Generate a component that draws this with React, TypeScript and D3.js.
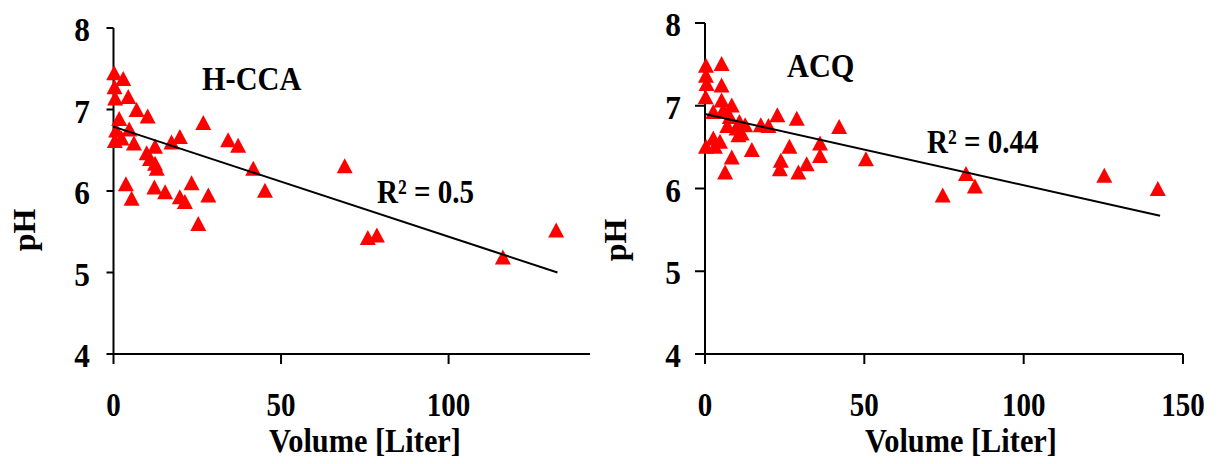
import React from "react";
import * as d3 from "d3";

// ---------- data ----------
const hccaVolume = [0.2, 2.9, 0.3, 0.5, 4.4, 6.9, 10.2, 1.7, 0.8, 26.8, 4.7, 0.4, 2.4, 6.1, 19.8, 17.3, 34.2, 37.2, 12.4, 9.9, 10.9, 12.4, 12.9, 41.7, 69, 3.7, 23.3, 12.2, 15.4, 5.4, 19.8, 21.3, 28.3, 45.2, 25.3, 75.9, 78.6, 116.2, 132.1];
const hccaPH = [7.45, 7.38, 7.28, 7.14, 7.16, 7.0, 6.92, 6.89, 6.75, 6.84, 6.76, 6.62, 6.65, 6.59, 6.67, 6.6, 6.63, 6.56, 6.55, 6.47, 6.4, 6.34, 6.28, 6.28, 6.31, 6.09, 6.1, 6.05, 5.99, 5.91, 5.93, 5.87, 5.95, 6.01, 5.6, 5.43, 5.46, 5.19, 5.52];

const acqVolume = [0.3, 5.2, 0.3, 0.5, 5.2, 0.2, 5.2, 8.4, 2.6, 5.7, 7.8, 22.7, 28.8, 10.8, 12.6, 7.0, 17.5, 19.9, 9.9, 42.1, 11.5, 10.5, 0.3, 2.6, 4.7, 3.1, 14.7, 26.5, 36.1, 36.1, 8.4, 50.5, 23.8, 31.9, 23.5, 6.3, 29.3, 81.9, 84.7, 74.6, 125.3, 142.1];
const acqPH = [7.49, 7.51, 7.37, 7.27, 7.25, 7.11, 7.07, 7.01, 6.93, 6.95, 6.87, 6.89, 6.85, 6.81, 6.77, 6.76, 6.77, 6.76, 6.73, 6.75, 6.67, 6.65, 6.51, 6.61, 6.57, 6.51, 6.47, 6.51, 6.55, 6.4, 6.38, 6.36, 6.34, 6.3, 6.24, 6.2, 6.2, 6.18, 6.03, 5.92, 6.16, 6.0];

const hccaTrendX = [0, 132.5];
const hccaTrendY = [6.79, 5.0];
const acqTrendX = [0, 142.8];
const acqTrendY = [6.9, 5.67];

const yTicks = [4, 5, 6, 7, 8];
const hccaXTicks = [0, 50, 100];
const acqXTicks = [0, 50, 100, 150];

const hccaTitle = "H-CCA";
const acqTitle = "ACQ";
const hccaR2 = "R² = 0.5";
const acqR2 = "R² = 0.44";
const xLabel = "Volume [Liter]";
const yLabel = "pH";

const FONT = "Liberation Serif, Times New Roman, serif";

function Txt(props: { x: number; y: number; size: number; sx?: number; rotate?: number; anchor?: string; children: React.ReactNode }) {
  const { x, y, size, sx = 1, rotate = 0, anchor = "start" } = props;
  return (
    <text
      transform={`translate(${x},${y})${rotate ? ` rotate(${rotate})` : ""} scale(${sx},1)`}
      textAnchor={anchor}
      style={{ fontFamily: FONT, fontWeight: 700, fontSize: size }}
      fill="#000"
    >
      {props.children}
    </text>
  );
}

function tri(cx: number, cy: number) {
  const w = 16, h = 15;
  return `M${cx},${cy - h / 2}L${cx + w / 2},${cy + h / 2}L${cx - w / 2},${cy + h / 2}Z`;
}

type PanelProps = {
  xs: number[]; ys: number[]; tx: number[]; ty: number[];
  xDomainMax: number; xRange: [number, number]; yRange: [number, number];
  xTicks: number[]; tickLen: number; title: string; titleX: number; titleY: number;
  r2: string; r2X: number; r2Y: number; yLabelX: number; yLabelY: number; xLabelX: number;
  yTickLabelX: number;
};

function Panel(p: PanelProps) {
  const x = d3.scaleLinear().domain([0, p.xDomainMax]).range(p.xRange);
  const y = d3.scaleLinear().domain([4, 8]).range(p.yRange);
  const line = d3.line<number>().x((d) => x(p.tx[d])).y((d) => y(p.ty[d]));
  const x0 = x(0);
  const y0 = y(4);
  return (
    <g>
      {/* y axis */}
      <line x1={x0} x2={x0} y1={y(8)} y2={y0} stroke="#000" strokeWidth={2} />
      {yTicks.map((t) => (
        <g key={"y" + t}>
          <line x1={x0 - p.tickLen} x2={x0} y1={y(t)} y2={y(t)} stroke="#000" strokeWidth={2} />
          <Txt x={p.yTickLabelX} y={y(t) + 13} size={33} sx={0.95} anchor="end">{t}</Txt>
        </g>
      ))}
      {/* x axis */}
      <line x1={x0} x2={p.xRange[1]} y1={y0} y2={y0} stroke="#000" strokeWidth={2} />
      {p.xTicks.map((t) => (
        <g key={"x" + t}>
          <line x1={x(t)} x2={x(t)} y1={y0} y2={y0 + 10} stroke="#000" strokeWidth={2} />
          <Txt x={x(t)} y={416} size={33} sx={0.88} anchor="middle">{t}</Txt>
        </g>
      ))}
      <Txt x={p.xLabelX} y={452} size={33} sx={0.92} anchor="middle">{xLabel}</Txt>
      <Txt x={p.yLabelX} y={p.yLabelY} size={32} rotate={-90} anchor="middle">{yLabel}</Txt>
      {/* points */}
      {p.xs.map((v, i) => (
        <path key={"p" + i} d={tri(x(v), y(p.ys[i]))} fill="#FF0000" />
      ))}
      {/* trend */}
      <path d={line(p.tx.map((_, i) => i)) || ""} fill="none" stroke="#000" strokeWidth={2} />
      <Txt x={p.titleX} y={p.titleY} size={33} sx={0.92}>{p.title}</Txt>
      <Txt x={p.r2X} y={p.r2Y} size={33} sx={0.88}>{p.r2}</Txt>
    </g>
  );
}

export default function App() {
  return (
    <svg width={1225} height={464} style={{ position: "absolute", left: 0, top: 0, background: "#fff" }}>
      <rect width={1225} height={464} fill="#fff" />
      <Panel xs={hccaVolume} ys={hccaPH} tx={hccaTrendX} ty={hccaTrendY}
        xDomainMax={142.2} xRange={[113.5, 590]} yRange={[354, 28]} xTicks={hccaXTicks}
        tickLen={7} title={hccaTitle} titleX={202} titleY={90} r2={hccaR2} r2X={377} r2Y={203}
        yLabelX={35} yLabelY={230} xLabelX={365} yTickLabelX={90} />
      <Panel xs={acqVolume} ys={acqPH} tx={acqTrendX} ty={acqTrendY}
        xDomainMax={150} xRange={[705, 1183]} yRange={[354, 23]} xTicks={acqXTicks}
        tickLen={10} title={acqTitle} titleX={787} titleY={77} r2={acqR2} r2X={927} r2Y={153}
        yLabelX={626} yLabelY={240} xLabelX={961} yTickLabelX={681} />
    </svg>
  );
}
